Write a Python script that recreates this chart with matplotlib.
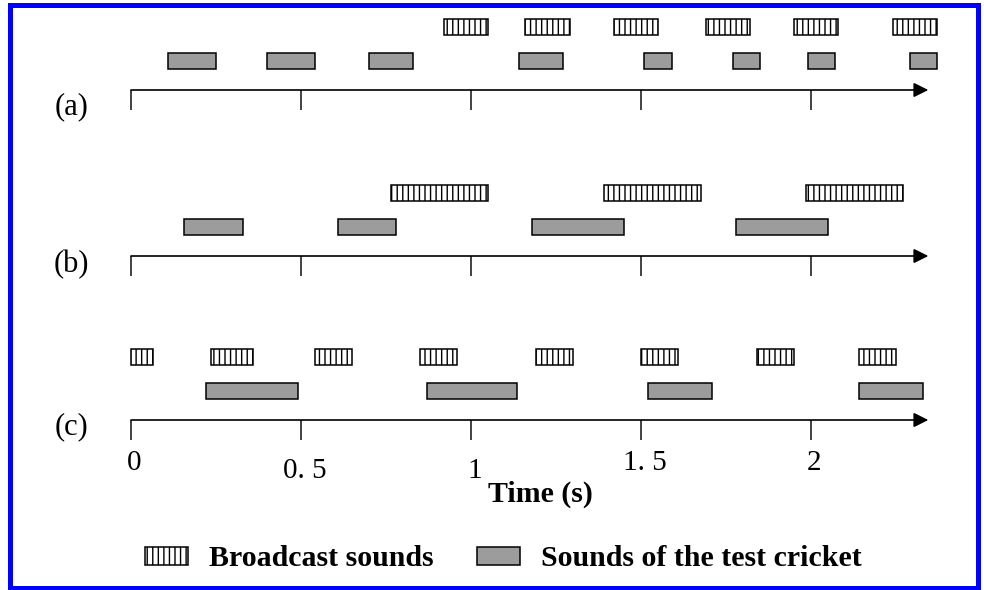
import matplotlib
matplotlib.use('Agg')
import matplotlib.pyplot as plt
from matplotlib.patches import Rectangle, Patch

# (start, end) of each sound in seconds
a_broadcast = [(0.92, 1.05), (1.16, 1.29), (1.42, 1.55), (1.69, 1.82), (1.95, 2.08), (2.24, 2.37)]
a_cricket = [(0.11, 0.25), (0.40, 0.54), (0.70, 0.83), (1.14, 1.27), (1.51, 1.59),
             (1.77, 1.85), (1.99, 2.07), (2.29, 2.37)]
b_broadcast = [(0.765, 1.05), (1.39, 1.675), (1.985, 2.27)]
b_cricket = [(0.155, 0.33), (0.61, 0.78), (1.18, 1.45), (1.78, 2.05)]
c_broadcast = [(0.0, 0.065), (0.235, 0.36), (0.54, 0.65), (0.85, 0.96), (1.19, 1.30),
               (1.50, 1.61), (1.84, 1.95), (2.14, 2.25)]
c_cricket = [(0.22, 0.49), (0.87, 1.135), (1.52, 1.71), (2.14, 2.33)]

row_labels = ['(a)', '(b)', '(c)']
tick_values = [0, 0.5, 1, 1.5, 2]
tick_labels = ['0', '0. 5', '1', '1. 5', '2']
axis_end = 2.345

serif = 'Liberation Serif'
BROADCAST_STYLE = dict(facecolor='white', edgecolor='black', hatch='|||', linewidth=1.1)
CRICKET_STYLE = dict(facecolor='#9c9c9c', edgecolor='black', linewidth=1.1)

plt.rcParams['hatch.linewidth'] = 1.0

fig = plt.figure(figsize=(9.84, 5.90), dpi=100)
ax = fig.add_axes([0, 0, 1, 1])
# x in seconds (340 px per second, zero at 131 px), y in pixels from the top
ax.set_xlim(-131 / 340, 853 / 340)
ax.set_ylim(590, 0)
ax.axis('off')

rows = [(a_broadcast, a_cricket), (b_broadcast, b_cricket), (c_broadcast, c_cricket)]
axis_y = [90, 256, 420]
label_y = [107, 265, 427]

for (broadcast, cricket), y, ly, label in zip(rows, axis_y, label_y, row_labels):
    ax.barh([y - 63.5] * len(broadcast), [e - s for s, e in broadcast],
            left=[s for s, e in broadcast], height=16, **BROADCAST_STYLE)
    ax.barh([y - 29.5] * len(cricket), [e - s for s, e in cricket],
            left=[s for s, e in cricket], height=16, **CRICKET_STYLE)
    ax.annotate('', xy=(axis_end, y), xytext=(0, y),
                arrowprops=dict(arrowstyle='-|>', lw=1.2, color='black',
                                mutation_scale=22, shrinkA=0, shrinkB=0))
    ax.vlines(tick_values, y, y + 20, color='#222222', lw=1.2)
    ax.text(-0.175, ly, label, ha='center', va='center', fontsize=22, family=serif)

# staggered tick labels under the last row
for i, (v, t) in enumerate(zip(tick_values, tick_labels)):
    top = 458 if i in (1, 2) else 450
    ax.text(v + 0.01, top, t, ha='center', va='top', fontsize=21, family=serif)

ax.text((540 - 131) / 340, 494, 'Time (s)', ha='center', va='center',
        fontsize=21.5, family=serif, weight='bold')

handles = [Patch(label='Broadcast sounds', **BROADCAST_STYLE),
           Patch(label='Sounds of the test cricket', **CRICKET_STYLE)]
fig.legend(handles=handles, loc='center', bbox_to_anchor=(503.5 / 984, 1 - 559 / 590),
           ncol=2, frameon=False, handlelength=1.45, handleheight=0.55,
           handletextpad=0.7, columnspacing=1.45,
           prop=dict(family=serif, weight='bold', size=21.5))

# blue frame round the whole picture
fig.patches.append(Rectangle((10 / 984, 2 / 590), 968 / 984, 583.5 / 590,
                             transform=fig.transFigure, fill=False,
                             edgecolor='#0000ff', linewidth=3.6))

fig.savefig('out.png', dpi=100)
